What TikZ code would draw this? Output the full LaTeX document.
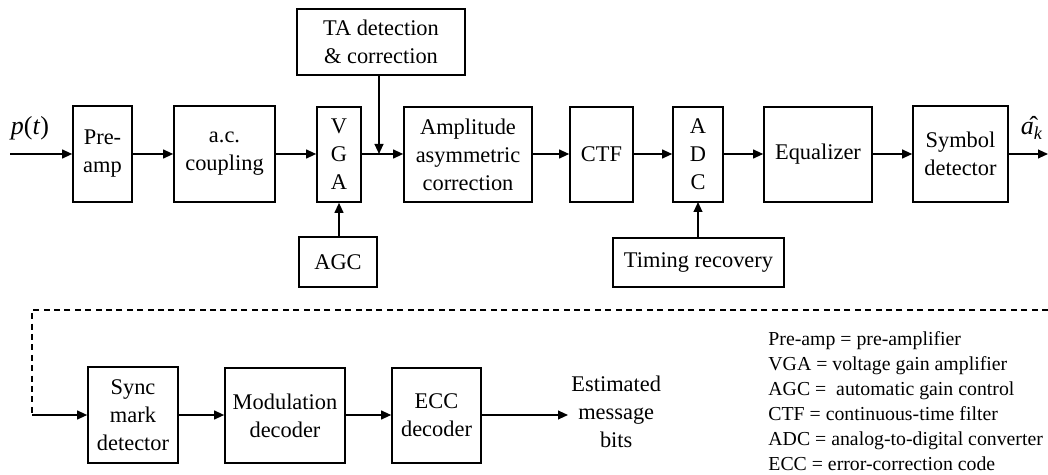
\documentclass[tikz,border=0pt]{standalone}
\usepackage{fontspec}
\setmainfont{Liberation Serif}
\usetikzlibrary{arrows.meta}
\begin{document}
\begin{tikzpicture}[x=0.5pt,y=-0.5pt,
  blk/.style={draw, line width=0.8pt, inner sep=0pt, align=center, font=\fontsize{11.2}{14}\selectfont},
  conn/.style={line width=0.8pt, -{Triangle[length=5pt,width=4.4pt]}},
  dsh/.style={line width=0.8pt, dash pattern=on 3pt off 2.2pt}]
\useasboundingbox (0,0) rectangle (1048,475);
\newcommand{\mybox}[6]{\node[blk, minimum width=#4*0.5pt-#2*0.5pt, minimum height=#5*0.5pt-#3*0.5pt] (#1) at ({(#2+#4)/2},{(#3+#5)/2}) {#6};}
\mybox{pre}{73}{106}{132}{202}{Pre-\\amp}
\mybox{ac}{174}{106}{275}{202}{a.c.\\coupling}
\mybox{vga}{317}{107}{361}{202}{V\\G\\A}
\mybox{ta}{297}{9}{465}{75}{TA detection\\\& correction}
\mybox{agc}{299}{237}{377}{287}{AGC}
\mybox{amp}{404}{107}{532}{202}{Amplitude\\asymmetric\\correction}
\mybox{ctf}{570}{107}{633}{202}{CTF}
\mybox{adc}{673}{107}{723}{202}{A\\D\\C}
\mybox{eq}{764}{107}{872}{202}{Equalizer}
\mybox{sym}{913}{106}{1008}{202}{Symbol\\detector}
\mybox{tim}{613}{238}{784}{287}{Timing recovery}
\mybox{sync}{88}{367}{178}{463}{Sync\\mark\\detector}
\mybox{mod}{225}{368}{345}{463}{Modulation\\decoder}
\mybox{ecc}{392}{368}{481}{463}{ECC\\decoder}
% input
\coordinate (in) at (10,154);
\node[font=\fontsize{13}{14}\selectfont, inner sep=0pt] (pt) at (30,128) {\textit{p}(\textit{t})};
\draw[conn] (in) -- (pre.west |- in);
\draw[conn] (pre.east |- in) -- (ac.west |- in);
\draw[conn] (ac.east |- in) -- (vga.west |- in);
\draw[conn] (vga.east |- in) -- (amp.west |- in);
\coordinate (taj) at (379,154);
\draw[conn] (ta.south -| taj) -- (taj);
\draw[conn] (agc.north -| vga.south) -- (vga.south);
\draw[conn] (amp.east |- in) -- (ctf.west |- in);
\draw[conn] (ctf.east |- in) -- (adc.west |- in);
\draw[conn] (adc.east |- in) -- (eq.west |- in);
\draw[conn] (eq.east |- in) -- (sym.west |- in);
\coordinate (adcin) at (698,202);
\draw[conn] (tim.north -| adcin) -- (adcin);
\coordinate (out) at (1048,154);
\draw[conn] (sym.east |- in) -- (out);
\node[font=\fontsize{13}{14}\selectfont, inner sep=0pt] (ak) at (1032,128) {\^{\textit{a}}\textsubscript{\textit{k}}};
% dashed return
\coordinate (dr) at (1048,310);
\coordinate (dl) at (32,310);
\coordinate (dd) at (32,415);
\draw[dsh] (dr) -- (dl) -- (dd);
\draw[conn] (dd) -- (sync.west |- dd);
\draw[conn] (sync.east |- dd) -- (mod.west |- dd);
\draw[conn] (mod.east |- dd) -- (ecc.west |- dd);
\coordinate (est) at (568,415);
\draw[conn] (ecc.east |- dd) -- (est);
\node[anchor=west, align=center, inner sep=0pt, font=\fontsize{11.2}{14}\selectfont] (estxt) at (571,412) {Estimated\\message\\bits};
% legend
\node[anchor=north west, align=left, inner sep=0pt, font=\fontsize{9.9}{12.5}\selectfont] (leg) at (768,331) {Pre-amp = pre-amplifier\\VGA = voltage gain amplifier\\AGC = \ automatic gain control\\CTF = continuous-time filter\\ADC = analog-to-digital converter\\ECC = error-correction code};
\end{tikzpicture}
\end{document}
